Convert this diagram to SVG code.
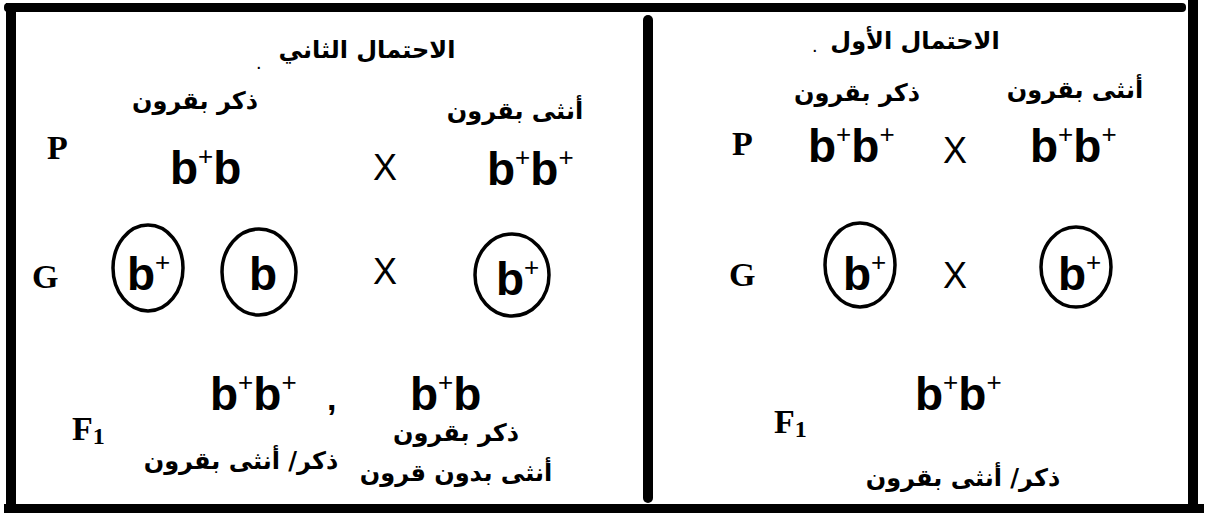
<svg xmlns="http://www.w3.org/2000/svg" width="1210" height="513" viewBox="0 0 1210 513">
<style>
  .frame { fill: #000; }
  .ar { font-family: "DejaVu Sans", "Noto Sans", sans-serif; font-weight: bold; font-size: 24px; fill: #000; text-anchor: middle; }
  .gen { font-family: "Liberation Sans", Arial, sans-serif; font-weight: bold; font-size: 46px; fill: #000; }
  .sup { font-size: 26px; font-weight: normal; }
  .x { font-family: "Liberation Sans", Arial, sans-serif; font-size: 36px; fill: #000; }
  .lbl { font-family: "Liberation Serif", "Times New Roman", serif; font-weight: bold; font-size: 34px; fill: #000; }
  .sub { font-size: 24px; }
  .gam { fill: none; stroke: #000; stroke-width: 3.5; }
  .dot { font-family: "Liberation Sans", Arial, sans-serif; font-size: 20px; fill: #000; }
</style>

<g id="frame">
  <rect class="frame" x="4" y="3" width="1182" height="9" rx="4"/>
  <rect class="frame" x="6" y="3" width="10" height="506"/>
  <rect class="frame" x="1188" y="0" width="10" height="510"/>
  <rect class="frame" x="4" y="504" width="1200" height="9"/>
  <rect class="frame" x="643" y="15" width="10" height="488" rx="5"/>
</g>

<g id="panel-second">
  <g id="title-second">
    <text class="ar" x="367" y="58">الاحتمال الثاني</text>
    <text class="dot" x="256" y="69">.</text>
  </g>
  <g id="p-second">
    <text class="lbl" x="47" y="159">P</text>
    <text class="ar" x="195" y="109">ذكر بقرون</text>
    <text class="gen" x="170" y="184">b<tspan class="sup" dy="-19">+</tspan><tspan dy="19">b</tspan></text>
    <text class="x" x="373" y="180">X</text>
    <text class="ar" x="515" y="119">أنثى بقرون</text>
    <text class="gen" x="487" y="185">b<tspan class="sup" dy="-19">+</tspan><tspan dy="19">b</tspan><tspan class="sup" dy="-19">+</tspan></text>
  </g>
  <g id="g-second">
    <text class="lbl" x="32" y="288">G</text>
    <g id="gamete-2a">
      <ellipse class="gam" cx="148" cy="268" rx="35" ry="43"/>
      <text class="gen" x="127" y="290">b<tspan class="sup" dy="-19">+</tspan></text>
    </g>
    <g id="gamete-2b">
      <ellipse class="gam" cx="259" cy="272" rx="37" ry="43"/>
      <text class="gen" x="249" y="290">b</text>
    </g>
    <text class="x" x="373" y="284">X</text>
    <g id="gamete-2c">
      <ellipse class="gam" cx="512" cy="275" rx="37" ry="41"/>
      <text class="gen" x="496" y="295">b<tspan class="sup" dy="-19">+</tspan></text>
    </g>
  </g>
  <g id="f1-second">
    <text class="lbl" x="72" y="440">F<tspan class="sub" dy="4">1</tspan></text>
    <text class="gen" x="210" y="410">b<tspan class="sup" dy="-19">+</tspan><tspan dy="19">b</tspan><tspan class="sup" dy="-19">+</tspan></text>
    <text class="gen" x="327" y="410" style="font-size:34px">,</text>
    <text class="gen" x="410" y="410">b<tspan class="sup" dy="-19">+</tspan><tspan dy="19">b</tspan></text>
    <text class="ar" x="456" y="441">ذكر بقرون</text>
    <text class="ar" x="241" y="469">ذكر/ أنثى بقرون</text>
    <text class="ar" x="456" y="481">أنثى بدون قرون</text>
  </g>
</g>

<g id="panel-first">
  <g id="title-first">
    <text class="ar" x="915" y="49">الاحتمال الأول</text>
    <text class="dot" x="812" y="52">.</text>
  </g>
  <g id="p-first">
    <text class="lbl" x="732" y="155">P</text>
    <text class="ar" x="857" y="101">ذكر بقرون</text>
    <text class="gen" x="808" y="162">b<tspan class="sup" dy="-19">+</tspan><tspan dy="19">b</tspan><tspan class="sup" dy="-19">+</tspan></text>
    <text class="x" x="943" y="163">X</text>
    <text class="ar" x="1075" y="98">أنثى بقرون</text>
    <text class="gen" x="1030" y="162">b<tspan class="sup" dy="-19">+</tspan><tspan dy="19">b</tspan><tspan class="sup" dy="-19">+</tspan></text>
  </g>
  <g id="g-first">
    <text class="lbl" x="729" y="286">G</text>
    <g id="gamete-1a">
      <ellipse class="gam" cx="860" cy="265" rx="35" ry="42"/>
      <text class="gen" x="843" y="290">b<tspan class="sup" dy="-19">+</tspan></text>
    </g>
    <text class="x" x="943" y="288">X</text>
    <g id="gamete-1b">
      <ellipse class="gam" cx="1076" cy="267" rx="35" ry="40"/>
      <text class="gen" x="1058" y="290">b<tspan class="sup" dy="-19">+</tspan></text>
    </g>
  </g>
  <g id="f1-first">
    <text class="lbl" x="774" y="433">F<tspan class="sub" dy="4">1</tspan></text>
    <text class="gen" x="915" y="410">b<tspan class="sup" dy="-19">+</tspan><tspan dy="19">b</tspan><tspan class="sup" dy="-19">+</tspan></text>
    <text class="ar" x="963" y="486">ذكر/ أنثى بقرون</text>
  </g>
</g>
</svg>
